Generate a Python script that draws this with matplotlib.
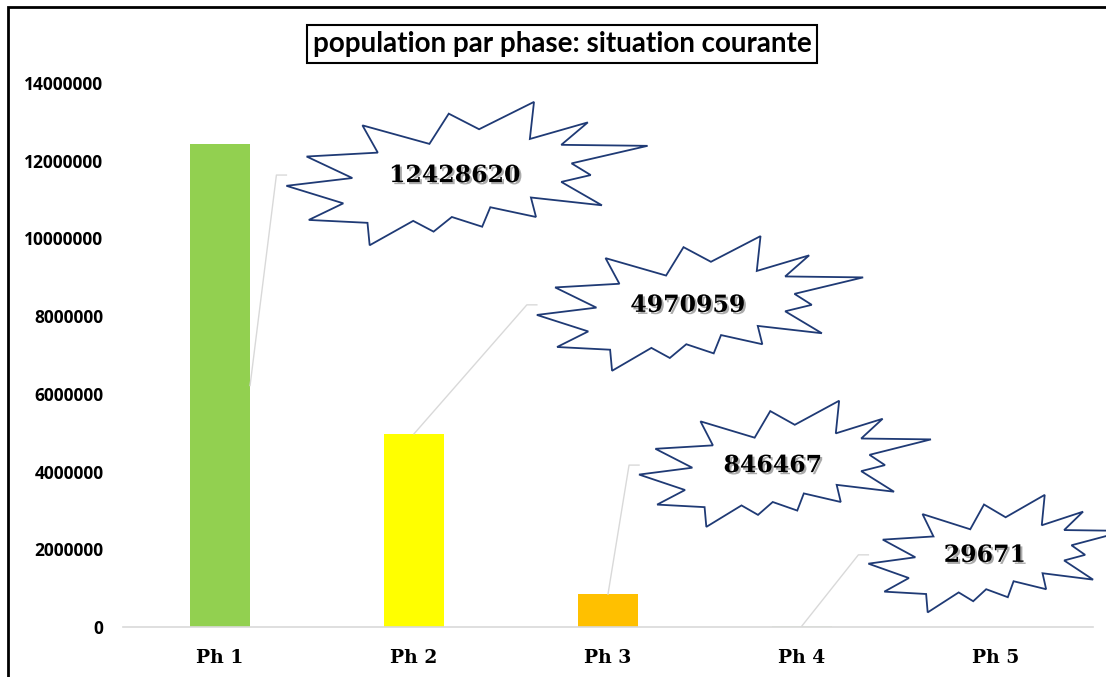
import numpy as np
import matplotlib
matplotlib.use("Agg")
import matplotlib.pyplot as plt
import matplotlib.patheffects as pe
from matplotlib.path import Path
from matplotlib.patches import Rectangle
from matplotlib.text import Text

# data
phases = ["Ph 1", "Ph 2", "Ph 3", "Ph 4", "Ph 5"]
population = [12428620, 4970959, 846467, 29671, 0]
bar_colors = ["#92d050", "#ffff00", "#ffc000", "#e2efda", "#e2efda"]
yticks = [0, 2000000, 4000000, 6000000, 8000000, 10000000, 12000000, 14000000]

# where each starburst label sits, pixels from the top of its bar
label_offsets = [(235, -31), (274, 129), (165, 129), (183, 71)]
# leader line end on the bar: (x shift in bar widths, fraction of bar height)
leader_anchor = [(0.5, 0.5), (0, 1), (0, 1), (0, 1)]
BAR_W = 0.31

# starburst outline, normalised to [-1, 1]
STAR_U = [-0.888, -0.494, -0.579, -0.208, -0.101, 0.067, 0.371, 0.348, 0.669, 0.522,
          1.0, 0.579, 0.685, 0.522, 0.747, 0.354, 0.382, 0.129, 0.084, -0.084,
          -0.185, -0.298, -0.539, -0.551, -0.876, -0.685, -1.0, -0.635]
STAR_V = [0.257, 0.311, 0.689, 0.432, 0.851, 0.635, 1.014, 0.5, 0.730, 0.419,
          0.405, 0.162, 0.0, -0.095, -0.419, -0.311, -0.581, -0.446, -0.716, -0.581,
          -0.784, -0.635, -0.973, -0.662, -0.622, -0.392, -0.149, -0.041]
STAR_SHIFT = 12  # px, star drawn a bit right of the number


def star_radii(width):
    rx = 2.1 * width / 2 + 42
    return rx, 0.25 * rx + 27


def starburst(x0, y0, width, height, mutation_size):
    cx, cy = x0 + width / 2 + STAR_SHIFT, y0 + height / 2
    rx, ry = star_radii(width)
    pts = [(cx + rx * u, cy + ry * v) for u, v in zip(STAR_U, STAR_V)]
    pts.append(pts[0])
    codes = [Path.MOVETO] + [Path.LINETO] * (len(pts) - 2) + [Path.CLOSEPOLY]
    return Path(pts, codes)


fig = plt.figure(figsize=(11.06, 6.77), dpi=100)
fig.patch.set_facecolor("white")
ax = fig.add_axes([123 / 1106, 50 / 677, 970 / 1106, 544 / 677])

x = np.arange(len(phases))
ax.bar(x, population, width=BAR_W, color=bar_colors, zorder=2)

ax.set_xlim(-0.5, len(phases) - 0.5)
ax.set_ylim(0, 14000000)
ax.set_yticks(yticks)
ax.set_yticklabels([str(t) for t in yticks], fontfamily="Open Sans",
                   fontweight="bold", fontsize=12.5)
ax.set_xticks(x)
ax.set_xticklabels(phases, fontfamily="DejaVu Serif", fontweight="bold", fontsize=13.5)
ax.tick_params(axis="both", length=0)
ax.tick_params(axis="y", pad=14)
ax.tick_params(axis="x", pad=16)
for side in ["top", "right", "left"]:
    ax.spines[side].set_visible(False)
ax.spines["bottom"].set_color("#d9d9d9")
ax.spines["bottom"].set_linewidth(1.2)

# starburst data labels
labels = []
for i, (dx, dy) in enumerate(label_offsets):
    t = ax.annotate(str(population[i]), xy=(i, population[i]), xytext=(dx, dy),
                    textcoords="offset pixels", ha="center", va="center",
                    fontfamily="DejaVu Serif", fontweight="bold", fontsize=17,
                    zorder=5,
                    bbox=dict(boxstyle=starburst, fc="white", ec="#1f3a75", lw=1.3),
                    path_effects=[pe.withSimplePatchShadow(offset=(1.5, -1.5),
                                                           shadow_rgbFace="#444444",
                                                           alpha=0.45)])
    labels.append(t)

# leader lines: bar -> short horizontal into the left edge of the star
fig.canvas.draw()
renderer = fig.canvas.get_renderer()
inv = ax.transData.inverted()
for i, t in enumerate(labels):
    bb = Text.get_window_extent(t, renderer)
    rx, _ = star_radii(bb.width)
    cx, cy = (bb.x0 + bb.x1) / 2 + STAR_SHIFT, (bb.y0 + bb.y1) / 2
    left = (cx - rx, cy)
    corner = (cx - rx - 10, cy)
    bar_pt = ax.transData.transform((i + leader_anchor[i][0] * BAR_W,
                                     population[i] * leader_anchor[i][1]))
    pts = inv.transform([bar_pt, corner, left])
    ax.plot(pts[:, 0], pts[:, 1], color="#d9d9d9", lw=1, zorder=3, clip_on=False)

# title box
fig.text(562 / 1106, 1 - 44 / 677, "population par phase: situation courante",
         ha="center", va="center", fontfamily="Lato", fontweight="bold", fontsize=20,
         bbox=dict(boxstyle="square,pad=0.2", fc="white", ec="black", lw=1.5))

# chart frame
fig.add_artist(Rectangle((8 / 1106, -0.1), 2, 1 - 7 / 677 + 0.1,
                         transform=fig.transFigure, fill=False, ec="black", lw=2))

fig.savefig("out.png", dpi=100)
